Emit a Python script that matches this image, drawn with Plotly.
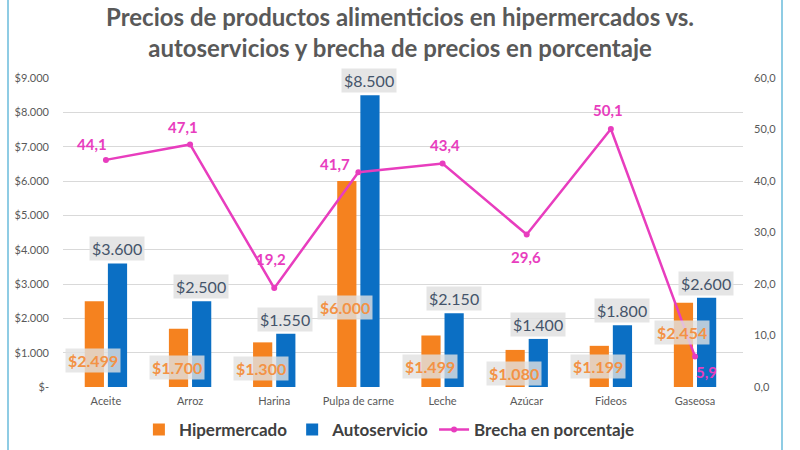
import plotly.graph_objects as go

# ---------------- data ----------------
categories = ["Aceite", "Arroz", "Harina", "Pulpa de carne", "Leche", "Azúcar", "Fideos", "Gaseosa"]
hipermercado = [2499, 1700, 1300, 6000, 1499, 1080, 1199, 2454]
autoservicio = [3600, 2500, 1550, 8500, 2150, 1400, 1800, 2600]
brecha = [44.1, 47.1, 19.2, 41.7, 43.4, 29.6, 50.1, 5.9]

left_tickvals = [0, 1000, 2000, 3000, 4000, 5000, 6000, 7000, 8000, 9000]
left_ticktext = ["$-", "$1.000", "$2.000", "$3.000", "$4.000", "$5.000", "$6.000", "$7.000", "$8.000", "$9.000"]
right_tickvals = [0, 10, 20, 30, 40, 50, 60]
right_ticktext = ["0,0", "10,0", "20,0", "30,0", "40,0", "50,0", "60,0"]

title_text = "Precios de productos alimenticios en hipermercados vs.<br>autoservicios y brecha de precios en porcentaje"

# ---------------- styles ----------------
ORANGE = "#F5821F"
BLUE = "#0B6FC4"
MAGENTA = "#E83DBE"
FONT = "Lato"


def money(v):
    return "$" + f"{v:,}".replace(",", ".")


def comma(v):
    return f"{v:.1f}".replace(".", ",")


fig = go.Figure()
fig.add_trace(go.Bar(name="Hipermercado", x=categories, y=hipermercado,
                     marker=dict(color=ORANGE, line=dict(width=0))))
fig.add_trace(go.Bar(name="Autoservicio", x=categories, y=autoservicio,
                     marker=dict(color=BLUE, line=dict(width=0))))
fig.add_trace(go.Scatter(name="Brecha en porcentaje", x=categories, y=brecha, yaxis="y2",
                         mode="lines+markers",
                         line=dict(color=MAGENTA, width=2.5),
                         marker=dict(color=MAGENTA, size=6)))

L, R, T, B = 63, 57, 78, 63
PW, PH = 800 - L - R, 450 - T - B

annotations = []
# title as an annotation (multi-line placement is more controllable)
annotations.append(dict(x=(400 - L) / PW, y=(387 - 32) / PH, xref="paper", yref="paper",
                        text="<b>" + title_text + "</b>", showarrow=False,
                        xanchor="center", yanchor="middle", align="center",
                        font=dict(family=FONT, size=24, color="#595959")))
# blue labels above the Autoservicio bars
for c, v in zip(categories, autoservicio):
    annotations.append(dict(x=c, y=v, xref="x", yref="y", text=money(v), showarrow=False,
                            xshift=11, yshift=2, yanchor="bottom",
                            font=dict(family=FONT, size=16, color="#44546A"),
                            bgcolor="rgba(225,225,225,0.85)", borderpad=2))
# orange labels near the base of the Hipermercado bars
orange_shift = [27, 20, 19, 80, 21, 14, 21, 55]
for c, v, s in zip(categories, hipermercado, orange_shift):
    annotations.append(dict(x=c, y=0, xref="x", yref="y", text="<b>" + money(v) + "</b>", showarrow=False,
                            xshift=-13, yshift=s, yanchor="middle",
                            font=dict(family=FONT, size=16, color="#F39245"),
                            bgcolor="rgba(225,225,225,0.8)", borderpad=2))
# line labels
line_shift = [(-14, -16), (-7, -17), (-3, -29), (-23, -8), (2, -18), (-1, 22), (-3, -19), (11, 15)]
for c, v, (dx, dy) in zip(categories, brecha, line_shift):
    annotations.append(dict(x=c, y=v, xref="x", yref="y2", text="<b>" + comma(v) + "</b>", showarrow=False,
                            xshift=dx, yshift=-dy, yanchor="middle",
                            font=dict(family=FONT, size=15, color=MAGENTA)))

# frame lines (light blue vertical borders)
shapes = []
for px in (8, 782):
    xp = (px - L) / PW
    shapes.append(dict(type="line", xref="paper", yref="paper", x0=xp, x1=xp,
                       y0=-(B) / PH - 0.05, y1=(PH + T) / PH + 0.05,
                       line=dict(color="#8FCCE4", width=2)))

fig.update_layout(
    width=800, height=450,
    margin=dict(l=L, r=R, t=T, b=B, autoexpand=False),
    paper_bgcolor="white", plot_bgcolor="white",
    barmode="group", bargap=0.45, bargroupgap=0.17,
    font=dict(family=FONT, color="#595959"),
    xaxis=dict(range=[-0.51, 7.57], showgrid=False, showline=False, ticks="", automargin=False,
               tickfont=dict(family=FONT, size=11, color="#595959"), ticklabelstandoff=6),
    yaxis=dict(range=[0, 9000], tickvals=left_tickvals, ticktext=left_ticktext, automargin=False,
               showgrid=True, gridcolor="#D9D9D9", gridwidth=1, zeroline=False,
               tickfont=dict(family=FONT, size=11, color="#595959"), ticklabelstandoff=13),
    yaxis2=dict(range=[0, 60], tickvals=right_tickvals, ticktext=right_ticktext, automargin=False,
                overlaying="y", side="right", showgrid=False, zeroline=False,
                tickfont=dict(family=FONT, size=11, color="#595959"), ticklabelstandoff=10),
    legend=dict(orientation="h", x=0.48, xanchor="center", y=-0.139, yanchor="middle",
                font=dict(family=FONT, size=17, color="#404040", weight="bold"),
                itemwidth=30, traceorder="normal"),
    annotations=annotations,
    shapes=shapes,
    showlegend=True,
)

fig.write_html("out.html", config={"displayModeBar": False},
               post_script="document.body.style.margin='0px';")
